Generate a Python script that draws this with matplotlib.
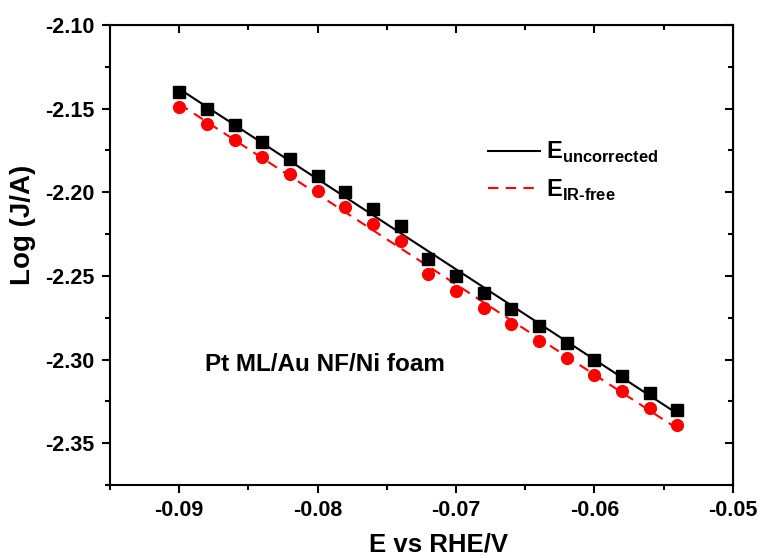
import numpy as np
import matplotlib
matplotlib.use("Agg")
import matplotlib.pyplot as plt
from matplotlib.ticker import MultipleLocator, FormatStrFormatter

# potential values (V vs RHE)
potential = [-0.090, -0.088, -0.086, -0.084, -0.082, -0.080, -0.078, -0.076, -0.074, -0.072,
             -0.070, -0.068, -0.066, -0.064, -0.062, -0.060, -0.058, -0.056, -0.054]
# log current, uncorrected potential
log_j_uncorr = [-2.140, -2.150, -2.160, -2.170, -2.180, -2.190, -2.200, -2.210, -2.220, -2.240,
                -2.250, -2.260, -2.270, -2.280, -2.290, -2.300, -2.310, -2.320, -2.330]
# log current, IR-free potential
log_j_irfree = [-2.149, -2.159, -2.169, -2.179, -2.189, -2.199, -2.209, -2.219, -2.229, -2.249,
                -2.259, -2.269, -2.279, -2.289, -2.299, -2.309, -2.319, -2.329, -2.339]

plt.rcParams["font.family"] = ["Liberation Sans", "DejaVu Sans"]
plt.rcParams["font.weight"] = "bold"
plt.rcParams["mathtext.fontset"] = "custom"
plt.rcParams["mathtext.rm"] = "Liberation Sans:bold"
plt.rcParams["mathtext.bf"] = "Liberation Sans:bold"

fig = plt.figure(figsize=(7.61, 5.58), dpi=100)
ax = fig.add_axes([0.1445, 0.1308, 0.8185, 0.8244])

x = np.array(potential)
# linear fits through each series
p1 = np.polyfit(x, log_j_uncorr, 1)
p2 = np.polyfit(x, log_j_irfree, 1)
xf = np.array([x.min(), x.max()])

ax.plot(xf, np.polyval(p1, xf), color="black", lw=1.5, label=r"E$_{\mathrm{uncorrected}}$")
ax.plot(xf, np.polyval(p2, xf), color="red", lw=1.5, ls=(0, (5, 3.5)), label=r"E$_{\mathrm{IR\text{-}free}}$")
ax.plot(x, log_j_uncorr, "s", color="black", ms=8, ls="none")
ax.plot(x, log_j_irfree, "o", color="red", ms=8.5, ls="none")

ax.set_xlim(-0.095, -0.05)
ax.set_ylim(-2.375, -2.10)
ax.xaxis.set_major_locator(MultipleLocator(0.01))
ax.xaxis.set_minor_locator(MultipleLocator(0.005))
ax.yaxis.set_major_locator(MultipleLocator(0.05))
ax.yaxis.set_minor_locator(MultipleLocator(0.025))
ax.xaxis.set_major_formatter(FormatStrFormatter("%.2f"))
ax.yaxis.set_major_formatter(FormatStrFormatter("%.2f"))

for s in ax.spines.values():
    s.set_linewidth(1.5)
ax.tick_params(which="major", direction="out", length=6, width=1.5, labelsize=15.5, pad=5)
ax.tick_params(which="minor", direction="out", length=3.5, width=1.5)

# mirrored ticks pointing inward on top and right
top = ax.secondary_xaxis("top")
top.xaxis.set_major_locator(MultipleLocator(0.01))
top.xaxis.set_minor_locator(MultipleLocator(0.005))
top.tick_params(which="major", direction="in", length=6, width=1.5, labeltop=False)
top.tick_params(which="minor", direction="in", length=3.5, width=1.5)
right = ax.secondary_yaxis("right")
right.yaxis.set_major_locator(MultipleLocator(0.05))
right.yaxis.set_minor_locator(MultipleLocator(0.025))
right.tick_params(which="major", direction="in", length=6, width=1.5, labelright=False)
right.tick_params(which="minor", direction="in", length=3.5, width=1.5)

ax.set_xlabel("E vs RHE/V", fontsize=18.5, fontweight="bold")
ax.set_ylabel("Log (J/A)", fontsize=20, fontweight="bold")
ax.xaxis.set_label_coords(0.528, -0.103)
ax.yaxis.set_label_coords(-0.119, 0.565)

ax.text(-0.0881, -2.303, "Pt ML/Au NF/Ni foam", fontsize=17.5, fontweight="bold", va="center")

ax.legend(loc="upper left", bbox_to_anchor=(0.573, 0.796), frameon=False, fontsize=17,
          handlelength=2.2, handletextpad=0.25, labelspacing=0.52)

fig.savefig("out.png", dpi=100)
